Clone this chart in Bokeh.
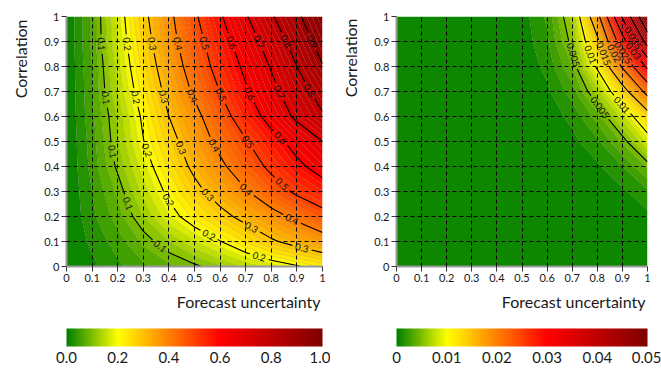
import math
import numpy as np
from bokeh.plotting import figure
from bokeh.plotting.contour import contour_data
from bokeh.layouts import row
from bokeh.models import FixedTicker, ColorBar, LinearColorMapper, Title
from bokeh.core.properties import value
from bokeh.embed import file_html
from bokeh.resources import INLINE

FONT = "Lato"

# ---------------- data ----------------
grid_x = [0.0, 0.1, 0.2, 0.3, 0.4, 0.5, 0.6, 0.7, 0.8, 0.9, 1.0]   # forecast uncertainty
grid_y = [0.0, 0.1, 0.2, 0.3, 0.4, 0.5, 0.6, 0.7, 0.8, 0.9, 1.0]   # correlation

# left panel values, one row per correlation value (bottom to top)
left_z = [
    [0, 0.015, 0.035, 0.055, 0.075, 0.093, 0.118, 0.145, 0.170, 0.195, 0.225],
    [0, 0.025, 0.050, 0.085, 0.120, 0.160, 0.198, 0.244, 0.290, 0.327, 0.360],
    [0, 0.035, 0.070, 0.121, 0.178, 0.229, 0.276, 0.324, 0.370, 0.419, 0.470],
    [0, 0.040, 0.085, 0.149, 0.213, 0.277, 0.337, 0.394, 0.458, 0.515, 0.558],
    [0, 0.047, 0.106, 0.173, 0.245, 0.318, 0.383, 0.451, 0.519, 0.581, 0.635],
    [0, 0.050, 0.118, 0.198, 0.271, 0.348, 0.424, 0.494, 0.565, 0.633, 0.700],
    [0, 0.055, 0.124, 0.210, 0.300, 0.375, 0.461, 0.549, 0.634, 0.718, 0.790],
    [0, 0.058, 0.142, 0.231, 0.324, 0.414, 0.502, 0.590, 0.674, 0.758, 0.840],
    [0, 0.060, 0.152, 0.250, 0.346, 0.442, 0.534, 0.618, 0.707, 0.800, 0.895],
    [0, 0.065, 0.163, 0.266, 0.368, 0.464, 0.560, 0.653, 0.744, 0.841, 0.940],
    [0, 0.065, 0.170, 0.280, 0.380, 0.486, 0.590, 0.692, 0.790, 0.884, 0.980],
]

# right panel values, one row per correlation value (bottom to top)
right_z = [
    [0, 0, 0, 0, 0, 0,       0,       0,       0,       0.00005, 0.0001],
    [0, 0, 0, 0, 0, 0,       0,       0,       0.00005, 0.0001,  0.0002],
    [0, 0, 0, 0, 0, 0,       0,       0.00005, 0.0001,  0.0003,  0.0007],
    [0, 0, 0, 0, 0, 0,       0.00005, 0.0001,  0.0003,  0.0008,  0.0018],
    [0, 0, 0, 0, 0, 0,       0.0001,  0.0003,  0.0008,  0.0020,  0.0042],
    [0, 0, 0, 0, 0, 0.00005, 0.0002,  0.0007,  0.0018,  0.0042,  0.0085],
    [0, 0, 0, 0, 0, 0.0001,  0.0004,  0.0013,  0.0035,  0.0077,  0.0130],
    [0, 0, 0, 0, 0, 0.0002,  0.0008,  0.0025,  0.0065,  0.0130,  0.0215],
    [0, 0, 0, 0, 0, 0.0003,  0.0013,  0.0040,  0.0105,  0.0205,  0.0310],
    [0, 0, 0, 0, 0, 0.0004,  0.0018,  0.0055,  0.0140,  0.0280,  0.0420],
    [0, 0, 0, 0, 0, 0.0005,  0.0022,  0.0065,  0.0185,  0.0355,  0.0500],
]

axis_ticks = [0, 0.1, 0.2, 0.3, 0.4, 0.5, 0.6, 0.7, 0.8, 0.9, 1]
axis_tick_labels = ["0", "0.1", "0.2", "0.3", "0.4", "0.5", "0.6", "0.7", "0.8", "0.9", "1"]

left_line_levels = [0.1, 0.2, 0.3, 0.4, 0.5, 0.6, 0.7, 0.8, 0.9]
right_line_levels = [0.005, 0.01, 0.015, 0.02, 0.025, 0.03, 0.035, 0.04, 0.045]

left_max = 1.0
right_max = 0.05

left_bar_ticks = [0, 0.2, 0.4, 0.6, 0.8, 1.0]
left_bar_labels = ["0.0", "0.2", "0.4", "0.6", "0.8", "1.0"]
right_bar_ticks = [0, 0.01, 0.02, 0.03, 0.04, 0.05]
right_bar_labels = ["0", "0.01", "0.02", "0.03", "0.04", "0.05"]

x_title = "Forecast uncertainty"
y_title = "Correlation"

# ---------------- colour map ----------------
STOPS = [0.0, 0.2, 0.6, 1.0]
STOP_RGB = [(0, 128, 0), (255, 255, 0), (255, 0, 0), (128, 0, 0)]


def cmap(t):
    t = min(max(t, 0.0), 1.0)
    for i in range(len(STOPS) - 1):
        if t <= STOPS[i + 1]:
            f = (t - STOPS[i]) / (STOPS[i + 1] - STOPS[i])
            c0, c1 = STOP_RGB[i], STOP_RGB[i + 1]
            rgb = [int(round(c0[k] + (c1[k] - c0[k]) * f)) for k in range(3)]
            return "#%02x%02x%02x" % tuple(rgb)
    return "#%02x%02x%02x" % STOP_RGB[-1]


PALETTE = [cmap(i / 255.0) for i in range(256)]


def gapped_lines(levels, xs_list, ys_list, sx, sy, spacing, first, fs):
    out_xs, out_ys = [], []
    lx, ly, lt, la = [], [], [], []
    for lev, xs, ys in zip(levels, xs_list, ys_list):
        xs = np.asarray(xs, dtype=float)
        ys = np.asarray(ys, dtype=float)
        if xs.size == 0:
            continue
        text = f"{lev:g}"
        hw = 0.5 * len(text) * fs * 0.52 + 2.5
        nan_idx = np.where(np.isnan(xs))[0]
        starts = np.concatenate([[0], nan_idx + 1])
        ends = np.concatenate([nan_idx, [len(xs)]])
        for s0, e0 in zip(starts, ends):
            px = xs[s0:e0] * sx
            py = ys[s0:e0] * sy
            if len(px) < 2:
                continue
            seg = np.hypot(np.diff(px), np.diff(py))
            s = np.concatenate([[0.0], np.cumsum(seg)])
            L = s[-1]
            centers = []
            c = first
            while c < L - hw - 6:
                centers.append(c)
                c += spacing
            if not centers and L > 2 * hw + 14:
                centers = [L / 2]
            gaps = []
            for c in centers:
                cx, cy = np.interp(c, s, px), np.interp(c, s, py)
                x0, y0 = np.interp(c - hw, s, px), np.interp(c - hw, s, py)
                x1, y1 = np.interp(c + hw, s, px), np.interp(c + hw, s, py)
                ang = math.atan2(y1 - y0, x1 - x0)
                if ang > math.pi / 2:
                    ang -= math.pi
                elif ang <= -math.pi / 2:
                    ang += math.pi
                lx.append(cx / sx)
                ly.append(cy / sy)
                lt.append(text)
                la.append(ang)
                gaps.append((c - hw, c + hw))
            pieces = []
            cur = 0.0
            for a, b in gaps:
                pieces.append((cur, a))
                cur = b
            pieces.append((cur, L))
            for a, b in pieces:
                if b - a < 0.5:
                    continue
                inner = (s > a) & (s < b)
                qx = np.concatenate([[np.interp(a, s, px)], px[inner], [np.interp(b, s, px)]])
                qy = np.concatenate([[np.interp(a, s, py)], py[inner], [np.interp(b, s, py)]])
                out_xs.append(list(qx / sx))
                out_ys.append(list(qy / sy))
    return out_xs, out_ys, lx, ly, lt, la


def make_panel(z, vmax, line_levels, bar_ticks, bar_labels, width, height,
               bl, br, bt, bb, spacing, first, ytitle_offset):
    z = np.array(z, dtype=float)
    p = figure(width=width, height=height, x_range=(0, 1), y_range=(0, 1),
               output_backend="svg", toolbar_location=None,
               min_border_left=bl, min_border_right=br,
               min_border_top=bt, min_border_bottom=bb)
    p.title.visible = False
    p.outline_line_color = None
    p.background_fill_color = "white"

    fill_levels = list(np.linspace(0.0, vmax, 51))
    fill_levels[0] = -1e-9 * vmax
    fill_cols = [cmap(0.5 * (fill_levels[i] + fill_levels[i + 1]) / vmax)
                 for i in range(len(fill_levels) - 1)]
    p.contour(x=grid_x, y=grid_y, z=z, levels=fill_levels,
              fill_color=fill_cols, line_color="#000000",
              line_alpha=0.16, line_width=0.7)

    fw = width - bl - br
    fh = height - bt - bb
    cd = contour_data(grid_x, grid_y, z, line_levels, want_fill=False, want_line=True)
    xs, ys, lx, ly, lt, la = gapped_lines(line_levels, cd.line_data.xs, cd.line_data.ys,
                                          fw, fh, spacing, first, 9.5)
    p.multi_line(xs=xs, ys=ys, line_color="black", line_width=1.1)
    p.text(x=lx, y=ly, text=lt, angle=la, text_align="center", text_baseline="middle",
           text_font=value(FONT), text_font_size="9.5px", text_color="#111111")

    for ax in (p.xaxis, p.yaxis):
        ax.ticker = FixedTicker(ticks=axis_ticks)
        ax.major_label_overrides = dict(zip(axis_ticks, axis_tick_labels))
        ax.minor_tick_line_color = None
        ax.major_tick_in = 0
        ax.major_tick_out = 5
        ax.major_tick_line_color = "#333333"
        ax.axis_line_color = "#9a9a9a"
        ax.axis_line_width = 2
        ax.major_label_text_font = FONT
        ax.major_label_text_font_size = "11px"
        ax.major_label_text_color = "#1a1a1a"
        ax.major_label_standoff = 2
    for g in (p.xgrid, p.ygrid):
        g.ticker = FixedTicker(ticks=axis_ticks[1:-1])
        g.grid_line_color = "black"
        g.grid_line_dash = "4 3"
        g.grid_line_width = 1
        g.level = "guide"

    ty = Title(text=y_title, align="right", vertical_align="top", offset=ytitle_offset,
               standoff=20, text_font=FONT, text_font_size="16px",
               text_font_style="normal", text_color="#1a1a1a")
    p.add_layout(ty, "left")
    tx = Title(text=x_title, align="right", vertical_align="middle", offset=2,
               standoff=12, text_font=FONT, text_font_size="16px",
               text_font_style="normal", text_color="#1a1a1a")
    p.add_layout(tx, "below")

    mapper = LinearColorMapper(palette=PALETTE, low=0, high=vmax)
    cb = ColorBar(color_mapper=mapper, orientation="horizontal", height=18, width=fw,
                  location=(0, -99),
                  ticker=FixedTicker(ticks=bar_ticks),
                  major_label_overrides=dict(zip(bar_ticks, bar_labels)),
                  major_label_text_font=FONT, major_label_text_font_size="15px",
                  major_label_text_color="#1a1a1a",
                  major_tick_line_color=None, minor_tick_line_color=None,
                  bar_line_color=None, border_line_color=None,
                  background_fill_color=None,
                  padding=0, margin=0, label_standoff=5)
    p.add_layout(cb)
    return p


p1 = make_panel(left_z, left_max, left_line_levels, left_bar_ticks, left_bar_labels,
                330, 373, 66, 8, 12, 107, 55, 28, 3)
p2 = make_panel(right_z, right_max, right_line_levels, right_bar_ticks, right_bar_labels,
                331, 373, 66, 14, 16, 105, 60, 40, 2)

layout = row(p1, p2)
open("out.html", "w").write(file_html(layout, INLINE))
